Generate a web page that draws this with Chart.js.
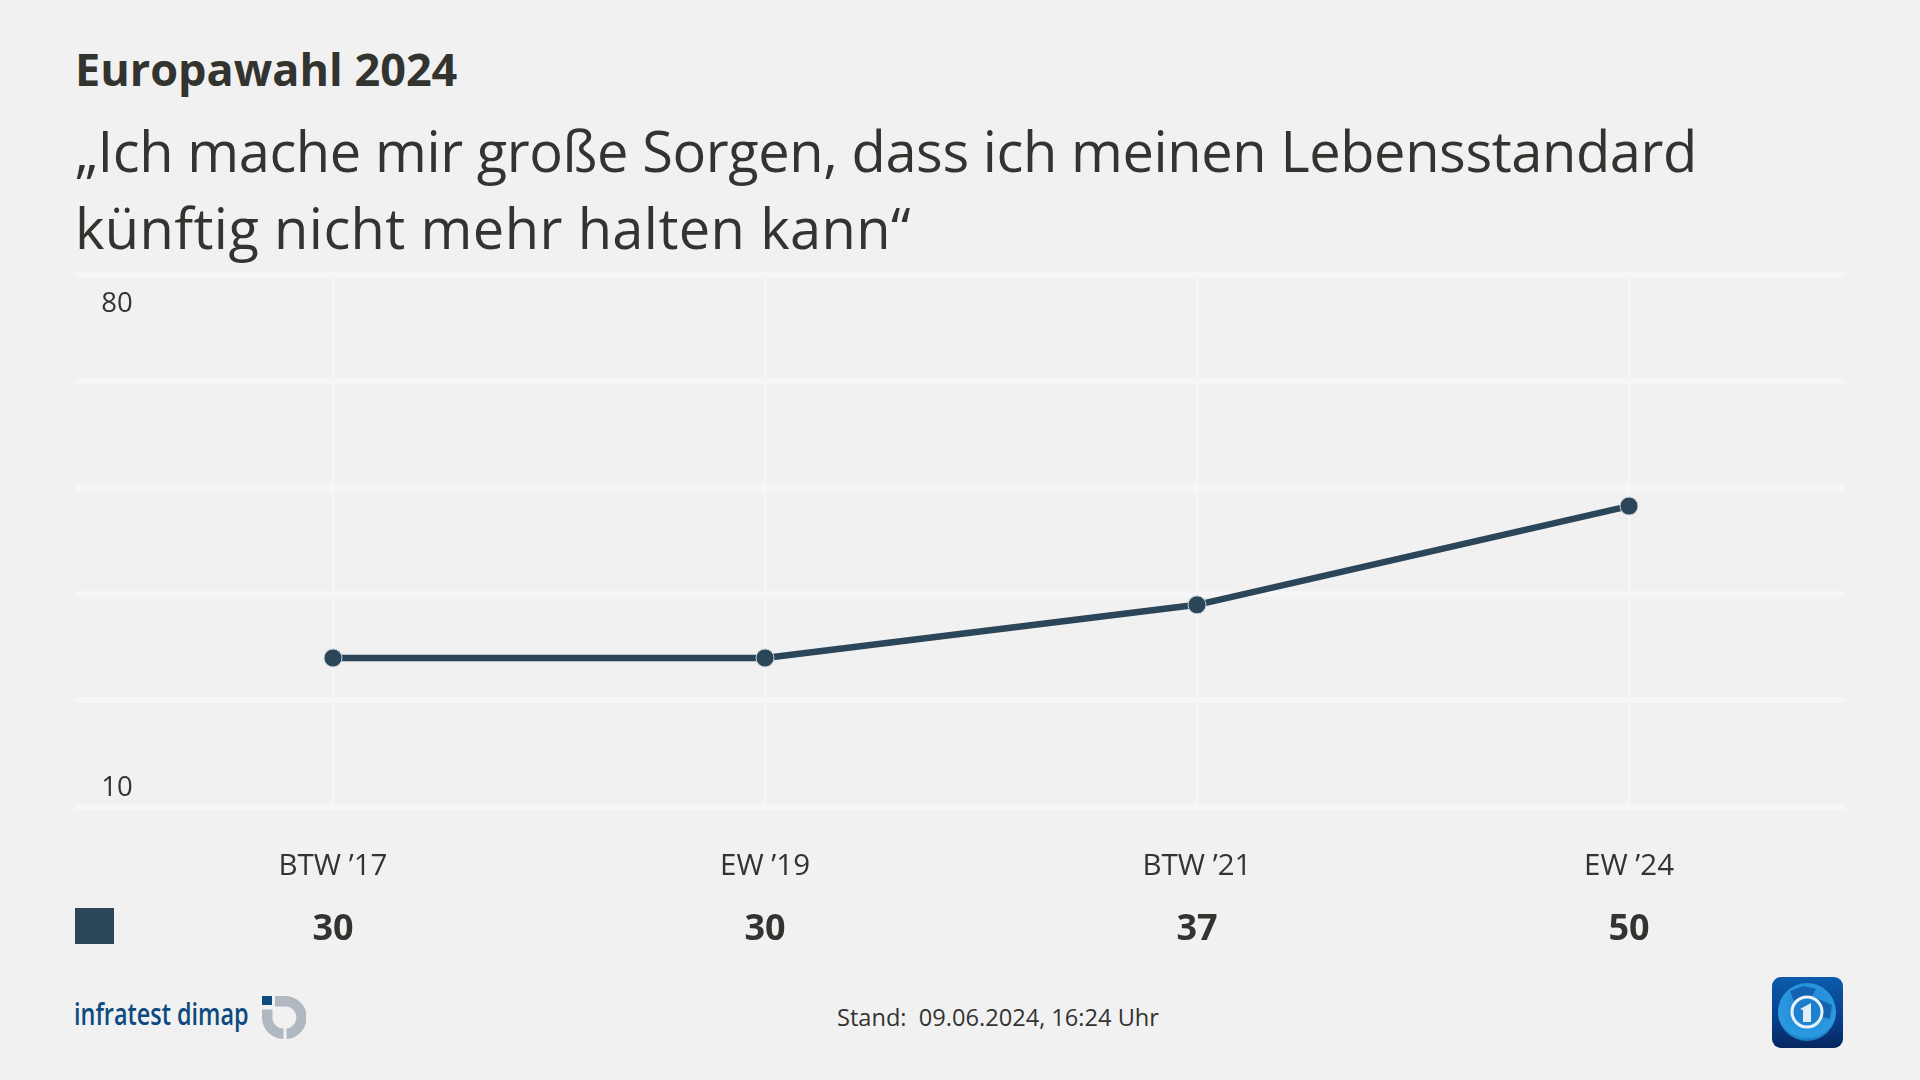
<!DOCTYPE html>
<html lang="de">
<head>
<meta charset="utf-8">
<title>Europawahl 2024</title>
<script src="https://cdn.jsdelivr.net/npm/chart.js@4"></script>
<style>
    html, body { margin: 0; padding: 0; background: #f1f1f1; }
    body { width: 1920px; height: 1080px; position: relative; overflow: hidden; font-family: "Open Sans", sans-serif; color: #333330; }
    .abs { position: absolute; white-space: nowrap; }
    #kicker { left: 75px; top: 40px; font-size: 45px; font-weight: 700; line-height: 58px; }
    #headline1 { left: 75px; top: 112px; font-size: 56px; line-height: 77px; letter-spacing: -0.4px; }
    #headline2 { left: 75px; top: 189px; font-size: 56px; line-height: 77px; letter-spacing: 0.39px; }
    #chart-box { position: absolute; left: 0; top: 260px; width: 1920px; height: 700px; }
    #swatch { left: 75px; top: 908px; width: 39px; height: 36px; background: #2b4559; }
    #stand { left: 837px; top: 1003px; font-size: 23.6px; line-height: 28px; }
    #brand { left: 74px; top: 996px; font-size: 30px; line-height: 36px; color: #0d4a80; font-weight: 600; transform: scaleX(0.78); transform-origin: left center; }
</style>
</head>
<body>
<div class="abs" id="kicker">Europawahl 2024</div>
<div class="abs" id="headline1">„Ich mache mir große Sorgen, dass ich meinen Lebensstandard</div>
<div class="abs" id="headline2">künftig nicht mehr halten kann“</div>
<div id="chart-box"><canvas id="chart" width="1920" height="700"></canvas></div>
<div class="abs" id="swatch"></div>
<div class="abs" id="brand">infratest dimap</div>
<svg class="abs" style="left:262px;top:996px" width="44" height="44" viewBox="0 0 44 44">
    <rect x="0" y="0" width="10" height="9" fill="#0d4a80"/>
    <path d="M13 0 H22 A21.5 21.5 0 0 1 24.5 43 V32.5 A11 11 0 0 0 22 10.5 H13 Z" fill="#b0b9c1"/>
    <path d="M0 13.5 H10.5 V21.5 A11 11 0 0 0 21.5 32.5 V43 A21.5 21.5 0 0 1 0 21.5 Z" fill="#b0b9c1"/>
</svg>
<div class="abs" id="stand">Stand:&nbsp; 09.06.2024, 16:24 Uhr</div>
<svg class="abs" style="left:1772px;top:977px" width="71" height="71" viewBox="0 0 71 71">
    <defs>
        <linearGradient id="tile" x1="0" y1="0" x2="0" y2="1">
            <stop offset="0" stop-color="#0b5cab"/>
            <stop offset="0.6" stop-color="#073f8c"/>
            <stop offset="1" stop-color="#06265f"/>
        </linearGradient>
        <radialGradient id="globe" cx="0.5" cy="0.4" r="0.65">
            <stop offset="0" stop-color="#1f7fd0"/>
            <stop offset="0.8" stop-color="#2a9be0"/>
            <stop offset="1" stop-color="#0a58ad"/>
        </radialGradient>
    </defs>
    <rect width="71" height="71" rx="9" fill="url(#tile)"/>
    <circle cx="35" cy="35" r="29" fill="url(#globe)"/>
    <path d="M18 14 L32 9 L44 12 L40 19 L28 20 L22 24 Z" fill="#0b4f9c" opacity="0.7"/>
    <path d="M46 22 L60 28 L58 42 L50 40 L47 30 Z" fill="#0b4f9c" opacity="0.7"/>
    <circle cx="35" cy="35" r="15" fill="#1679c8" fill-opacity="0.5" stroke="#e8f3fb" stroke-width="3"/>
    <path d="M28 32 L39 26 V45 H31 V33 Z" fill="#dfeef9"/>
</svg>
<script>
const categories = ['BTW ’17', 'EW ’19', 'BTW ’21', 'EW ’24'];
const seriesValues = [30, 30, 37, 50];
// axis runs a little above the printed 10..80, the picture's gridlines sit that way
const yMin = 10.42;
const yMax = 80.42;
const yStep = 14;
const yLabels = ['80', '10'];

// draws the two inner axis labels and the value row under the x axis
const extraText = {
    id: 'extraText',
    afterDraw(chart) {
        const ctx = chart.ctx;
        const x = chart.scales.x;
        const y = chart.scales.y;
        ctx.save();
        ctx.fillStyle = '#333330';
        ctx.textAlign = 'center';
        ctx.textBaseline = 'middle';
        ctx.font = '27.5px "Open Sans"';
        ctx.fillText(yLabels[0], 117, y.getPixelForValue(yMax) + 29);
        ctx.fillText(yLabels[1], 117, y.getPixelForValue(yMin) - 19);
        ctx.font = '700 36px "Open Sans"';
        seriesValues.forEach((v, i) => {
            ctx.fillText(v, x.getPixelForValue(i), 670);
        });
        ctx.restore();
    }
};

new Chart(document.getElementById('chart').getContext('2d'), {
    type: 'line',
    data: {
        labels: categories,
        datasets: [{
            data: seriesValues,
            borderColor: '#2b4559',
            borderWidth: 6.5,
            pointRadius: 9,
            pointBackgroundColor: '#2b4559',
            pointBorderColor: '#c5ced5',
            pointBorderWidth: 1,
            tension: 0,
            clip: false
        }]
    },
    options: {
        responsive: false,
        animation: false,
        layout: { padding: { left: 117, right: 75, top: 15, bottom: 0 } },
        plugins: { legend: { display: false }, tooltip: { enabled: false } },
        scales: {
            x: {
                offset: true,
                border: { display: false },
                grid: { offset: false, color: '#f7f7f7', lineWidth: 2, drawTicks: false },
                afterFit(scale) { scale.height = 153.3; },
                ticks: { color: '#333330', font: { family: '"Open Sans"', size: 29.5 }, padding: 42, maxRotation: 0 }
            },
            y: {
                min: yMin,
                max: yMax,
                border: { display: false },
                grid: { color: '#f6f6f6', lineWidth: 6, tickLength: 42, tickColor: '#f6f6f6' },
                afterFit(scale) { scale.width = 0; },
                afterBuildTicks(scale) {
                    scale.ticks = [0, 1, 2, 3, 4, 5].map(i => ({ value: yMin + i * yStep }));
                },
                ticks: { display: false }
            }
        }
    },
    plugins: [extraText]
});
</script>
</body>
</html>
